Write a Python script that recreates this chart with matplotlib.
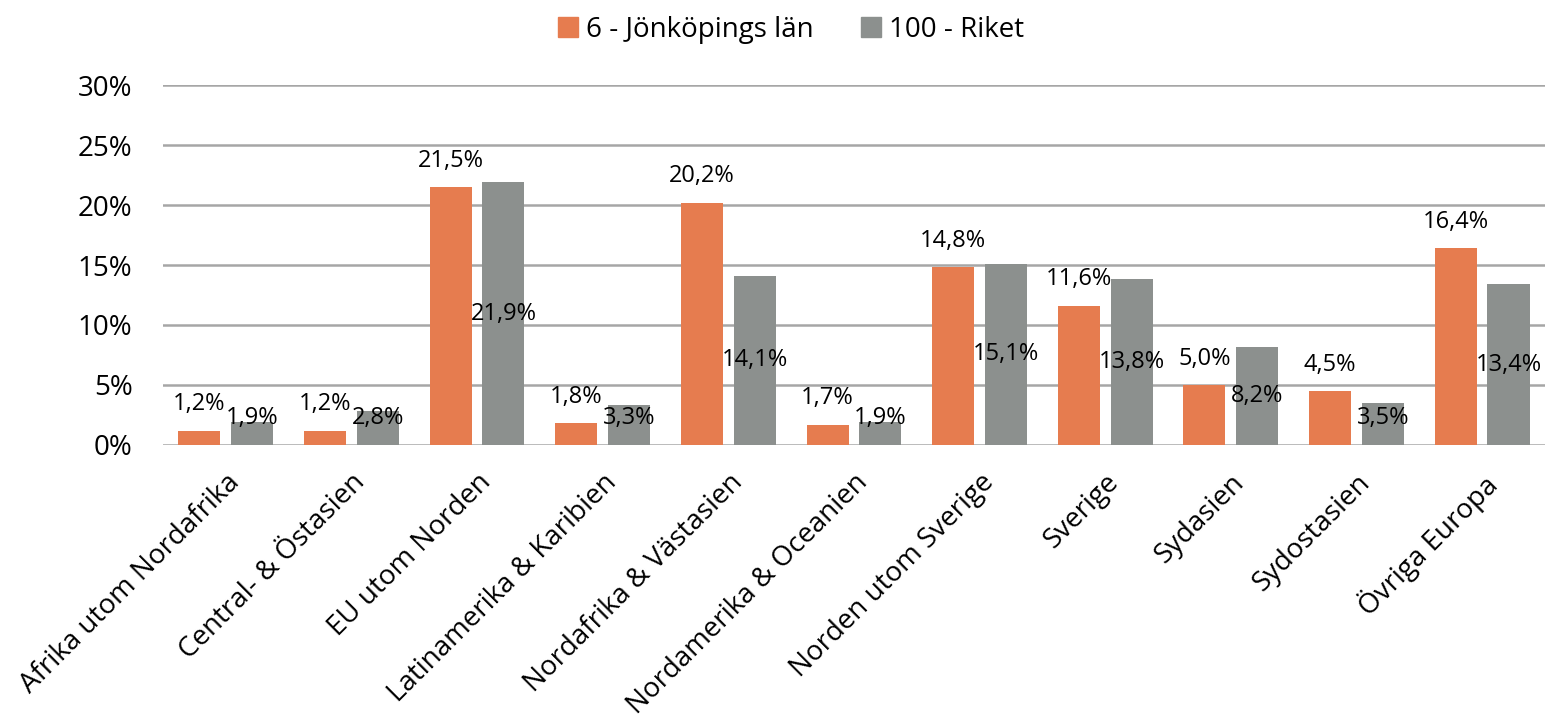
import matplotlib
matplotlib.use("Agg")
import matplotlib.pyplot as plt
from matplotlib.patches import Patch
import numpy as np

plt.rcParams["font.family"] = ["Open Sans", "DejaVu Sans"]

categories = [
    "Afrika utom Nordafrika",
    "Central- & Östasien",
    "EU utom Norden",
    "Latinamerika & Karibien",
    "Nordafrika & Västasien",
    "Nordamerika & Oceanien",
    "Norden utom Sverige",
    "Sverige",
    "Sydasien",
    "Sydostasien",
    "Övriga Europa",
]
jonkoping = [1.2, 1.2, 21.5, 1.8, 20.2, 1.7, 14.8, 11.6, 5.0, 4.5, 16.4]
riket = [1.9, 2.8, 21.9, 3.3, 14.1, 1.9, 15.1, 13.8, 8.2, 3.5, 13.4]
series_names = ["6 - Jönköpings län", "100 - Riket"]
yticks = [0, 5, 10, 15, 20, 25, 30]

orange = "#E67C4F"
gray = "#8C908E"
grid_color = "#A6A6A6"


def fmt(v):
    return f"{v:.1f}".replace(".", ",") + "%"


fig = plt.figure(figsize=(15.48, 7.17), dpi=100)
ax = fig.add_axes([0.1053, 0.3794, 0.8927, 0.502])

x = np.arange(len(categories))
w = 0.335
off = 0.21
ax.bar(x - off, jonkoping, w, color=orange, zorder=3)
ax.bar(x + off, riket, w, color=gray, zorder=3)

# value labels: orange above the bar, gray centred in the bar
for xi, v in zip(x, jonkoping):
    ax.annotate(fmt(v), (xi - off, v), xytext=(0, 19), textcoords="offset points",
                ha="center", va="center", fontsize=17, color="black")
for xi, v in zip(x, riket):
    ax.text(xi + off, max(v / 2, 2.25), fmt(v), ha="center", va="center",
            fontsize=17, color="black", zorder=4)

ax.set_xlim(-0.5, len(categories) - 0.5)
ax.set_ylim(0, 30)
ax.set_yticks(yticks)
ax.set_yticklabels([f"{t}%" for t in yticks], fontsize=20)
ax.set_xticks(x)
ax.set_xticklabels(categories, rotation=45, ha="right", rotation_mode="anchor", fontsize=20)
ax.tick_params(axis="both", length=0)
ax.tick_params(axis="y", pad=22)
ax.tick_params(axis="x", pad=17)

ax.grid(axis="y", color=grid_color, linewidth=1.8, zorder=0)
ax.set_axisbelow(True)
for s in ax.spines.values():
    s.set_visible(False)

handles = [Patch(color=orange), Patch(color=gray)]
fig.legend(handles, series_names, loc="upper center", bbox_to_anchor=(0.511, 1.013),
           ncol=2, frameon=False, fontsize=20, handlelength=0.72, handleheight=0.72,
           handletextpad=0.3, columnspacing=1.7)

fig.savefig("out.png", dpi=100)
